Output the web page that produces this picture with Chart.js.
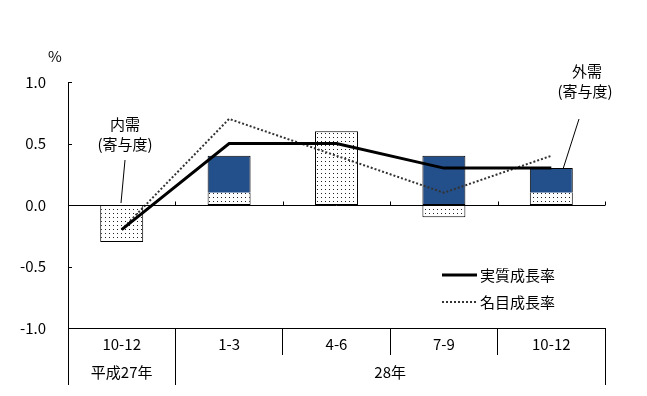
<!DOCTYPE html>
<html>
<head>
<meta charset="utf-8">
<script src="https://cdn.jsdelivr.net/npm/chart.js@4.4.1/dist/chart.umd.min.js"></script>
<style>
html,body{margin:0;padding:0;background:#fff;}
#wrap{width:647px;height:396px;position:relative;}
</style>
</head>
<body>
<div id="wrap"><canvas id="c" width="647" height="396"></canvas></div>
<script>
// ---- data ----
const quarters = ['10-12', '1-3', '4-6', '7-9', '10-12'];
const yearGroups = ['平成27年', '28年'];
const yearSpans = [1, 4];
const domesticContribution = [-0.3, 0.1, 0.6, -0.1, 0.1];
const externalContribution = [0.0, 0.3, 0.0, 0.4, 0.2];
const realGrowth = [-0.2, 0.5, 0.5, 0.3, 0.3];
const nominalGrowth = [-0.2, 0.7, 0.4, 0.1, 0.4];
const seriesNames = ['内需(寄与度)', '外需(寄与度)', '実質成長率', '名目成長率'];
const yTicks = [-1.0, -0.5, 0.0, 0.5, 1.0];

const FONT = '"Noto Sans CJK JP", "Noto Sans", sans-serif';

// dotted pattern for domestic demand
const pc = document.createElement('canvas');
pc.width = 4; pc.height = 4;
const pctx = pc.getContext('2d');
pctx.fillStyle = '#fff'; pctx.fillRect(0, 0, 4, 4);
pctx.fillStyle = '#222'; pctx.fillRect(1, 1, 1, 1);
const ctxMain = document.getElementById('c').getContext('2d');
const dotPattern = ctxMain.createPattern(pc, 'repeat');

const decorPlugin = {
  id: 'decor',
  afterDatasetsDraw(chart) {
    const ctx = chart.ctx;
    const x = chart.scales.x, y = chart.scales.y;
    const ca = chart.chartArea;
    const y0 = Math.round(y.getPixelForValue(0)) + 0.5;
    const half = (x.getPixelForValue(1) - x.getPixelForValue(0)) / 2;
    ctx.save();
    ctx.strokeStyle = '#000';
    ctx.lineWidth = 1;
    ctx.beginPath();
    ctx.moveTo(ca.left, y0); ctx.lineTo(ca.right, y0);
    for (let i = 0; i <= quarters.length; i++) {
      const bx = Math.round(x.getPixelForValue(i) - half) + 0.5;
      ctx.moveTo(bx, y0); ctx.lineTo(bx, y0 - 4);
    }
    yTicks.forEach(v => {
      const py = Math.round(y.getPixelForValue(v)) + 0.5;
      ctx.moveTo(ca.left, py); ctx.lineTo(ca.left + 4, py);
    });
    ctx.stroke();
    ctx.restore();
  },
  afterDraw(chart) {
    const ctx = chart.ctx;
    const x = chart.scales.x, y = chart.scales.y;
    const ca = chart.chartArea;
    const half = (x.getPixelForValue(1) - x.getPixelForValue(0)) / 2;
    ctx.save();
    ctx.strokeStyle = '#000';
    ctx.lineWidth = 1;
    const rowTop = ca.bottom + 27, rowBot = ca.bottom + 57;
    ctx.beginPath();
    let idx = 0;
    const edges = [0];
    yearSpans.forEach(s => { idx += s; edges.push(idx); });
    edges.forEach(e => {
      const bx = Math.round(x.getPixelForValue(e) - half) + 0.5;
      ctx.moveTo(bx, ca.bottom); ctx.lineTo(bx, rowBot);
    });
    ctx.stroke();
    ctx.fillStyle = '#000';
    ctx.font = '15px ' + FONT;
    ctx.textAlign = 'center';
    ctx.textBaseline = 'middle';
    for (let g = 0; g < yearGroups.length; g++) {
      const l = x.getPixelForValue(edges[g]) - half;
      const r = x.getPixelForValue(edges[g + 1]) - half;
      ctx.fillText(yearGroups[g], (l + r) / 2, rowTop + 17);
    }
    ctx.fillText('%', 55, 56);
    ctx.fillText('内需', 125, 124);
    ctx.fillText('(寄与度)', 125, 144);
    ctx.fillText('外需', 587, 71);
    ctx.fillText('(寄与度)', 585, 91);
    ctx.beginPath();
    ctx.moveTo(125, 160); ctx.lineTo(121, y.getPixelForValue(0) - 2);
    ctx.moveTo(579, 119); ctx.lineTo(563, y.getPixelForValue(0.3) + 1);
    ctx.stroke();
    // legend
    ctx.textAlign = 'left';
    ctx.beginPath();
    ctx.lineWidth = 3;
    ctx.moveTo(442, 275); ctx.lineTo(477, 275);
    ctx.stroke();
    ctx.beginPath();
    ctx.lineWidth = 2;
    ctx.strokeStyle = '#333';
    ctx.setLineDash([2, 2]);
    ctx.moveTo(442, 302); ctx.lineTo(477, 302);
    ctx.stroke();
    ctx.setLineDash([]);
    ctx.fillText(seriesNames[2], 480, 275);
    ctx.fillText(seriesNames[3], 480, 302);
    ctx.restore();
  }
};

new Chart(ctxMain, {
  data: {
    labels: quarters,
    datasets: [
      { type: 'line', label: seriesNames[2], data: realGrowth, borderColor: '#000', borderWidth: 3, pointRadius: 0, tension: 0, order: 0, stack: 'l1' },
      { type: 'line', label: seriesNames[3], data: nominalGrowth, borderColor: '#333', borderWidth: 2, borderDash: [2, 2], pointRadius: 0, tension: 0, order: 0, stack: 'l2' },
      { type: 'bar', label: seriesNames[0], data: domesticContribution, backgroundColor: dotPattern, borderColor: '#000', borderWidth: 1, order: 1, stack: 'b', barPercentage: 1, categoryPercentage: 0.4,
        borderSkipped: c => (domesticContribution[c.dataIndex] > 0 && externalContribution[c.dataIndex] > 0) ? 'end' : false },
      { type: 'bar', label: seriesNames[1], data: externalContribution, backgroundColor: '#234F8A', borderColor: '#000', borderWidth: 1, order: 2, stack: 'b', barPercentage: 1, categoryPercentage: 0.4,
        borderSkipped: c => (domesticContribution[c.dataIndex] > 0) ? 'start' : false }
    ]
  },
  options: {
    responsive: false,
    animation: false,
    layout: { padding: { left: 0, right: 42, top: 82, bottom: 0 } },
    plugins: { legend: { display: false }, tooltip: { enabled: false } },
    scales: {
      x: {
        stacked: true,
        offset: true,
        grid: { display: true, drawOnChartArea: false, drawTicks: true, tickLength: 27, offset: true, color: '#000' },
        border: { display: true, color: '#000' },
        ticks: { color: '#000', font: { family: FONT, size: 15 }, padding: -20, maxRotation: 0, autoSkip: false },
        afterFit(s) { s.height = 68; }
      },
      y: {
        stacked: true,
        min: -1, max: 1,
        grid: { display: false, drawTicks: false },
        border: { display: true, color: '#000' },
        ticks: { stepSize: 0.5, color: '#000', font: { family: FONT, size: 15 }, padding: 22, callback: v => Number(v).toFixed(1) },
        afterFit(s) { s.width = 68; }
      }
    }
  },
  plugins: [decorPlugin]
});
</script>
</body>
</html>
